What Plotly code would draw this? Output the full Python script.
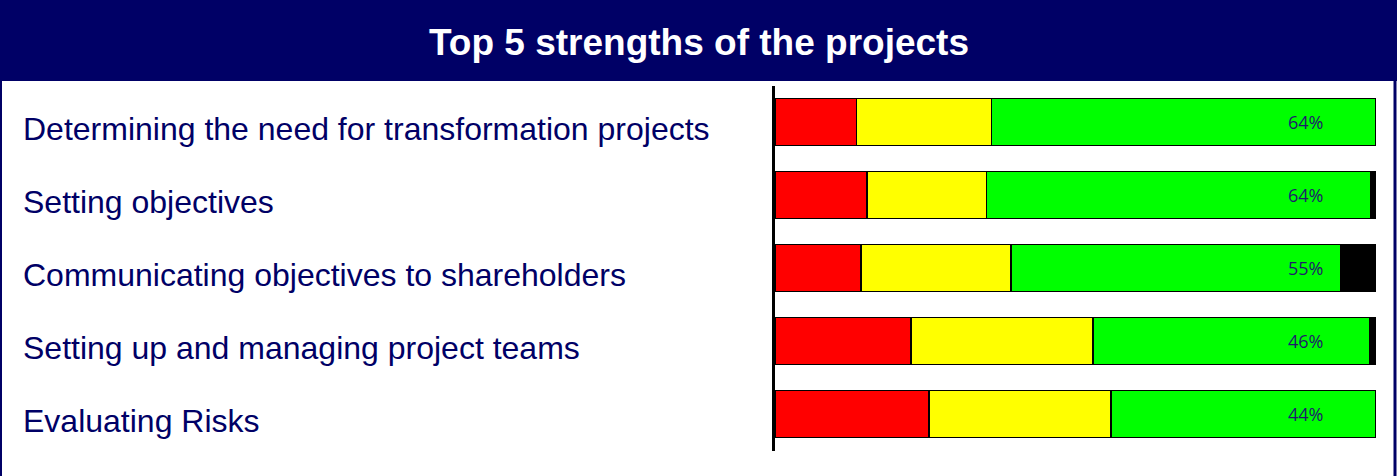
import plotly.graph_objects as go

# data
categories = [
    "Determining the need for transformation projects",
    "Setting objectives",
    "Communicating objectives to shareholders",
    "Setting up and managing project teams",
    "Evaluating Risks",
]
red_vals = [13.6, 15.3, 14.3, 22.6, 25.6]
yellow_vals = [22.4, 19.9, 25.0, 30.3, 30.3]
green_vals = [64.0, 64.0, 54.8, 46.0, 44.1]
black_vals = [0.0, 0.8, 5.9, 1.1, 0.0]
green_labels = ["64%", "64%", "55%", "46%", "44%"]

W, H = 1397, 476
NAVY = "#000066"
FONT = "Liberation Sans, Arial, sans-serif"

fig = go.Figure()
for vals, col in [(red_vals, "#FF0000"), (yellow_vals, "#FFFF00"),
                  (green_vals, "#00FF00"), (black_vals, "#000000")]:
    fig.add_trace(go.Bar(
        y=categories, x=vals, orientation="h",
        marker=dict(color=col, line=dict(color="black", width=1.5)),
        width=0.64, showlegend=False, hoverinfo="x+y",
    ))

# percent labels inside the green segment
for cat, lab in zip(categories, green_labels):
    fig.add_annotation(x=88.3, y=cat, xref="x", yref="y", text=lab,
                       showarrow=False,
                       font=dict(family="Open Sans, sans-serif", size=18, color="#1F1A6B"))

# category labels on the left
for cat in categories:
    fig.add_annotation(x=21 / W, y=cat, xref="paper", yref="y", text=cat,
                       xanchor="left", showarrow=False, yshift=-7,
                       font=dict(family=FONT, size=32, color=NAVY))

# title banner and frame
fig.add_shape(type="rect", xref="paper", yref="paper", x0=0, x1=1,
              y0=1 - 81 / H, y1=1, fillcolor=NAVY, line_width=0, layer="below")
fig.add_shape(type="line", xref="paper", yref="paper", x0=1 / W, x1=1 / W,
              y0=0, y1=1, line=dict(color=NAVY, width=2))
fig.add_shape(type="line", xref="paper", yref="paper", x0=1395 / W, x1=1395 / W,
              y0=0, y1=1, line=dict(color=NAVY, width=3))
fig.add_annotation(x=699 / W, y=1 - 42 / H, xref="paper", yref="paper",
                   xanchor="center", yanchor="middle",
                   text="<b>Top 5 strengths of the projects</b>", showarrow=False,
                   font=dict(family=FONT, size=37, color="white"))

fig.update_layout(
    width=W, height=H, barmode="stack",
    margin=dict(l=0, r=0, t=0, b=0),
    paper_bgcolor="white", plot_bgcolor="white",
    xaxis=dict(domain=[775 / W, 1376 / W], range=[0, 100], visible=False, fixedrange=True),
    yaxis=dict(domain=[1 - 450.5 / H, 1 - 85.5 / H], autorange="reversed",
               showticklabels=False, showgrid=False, zeroline=False,
               showline=True, linecolor="black", linewidth=3),
)

fig.write_html("out.html", config={"displayModeBar": False},
               post_script="document.body.style.margin='0';")
